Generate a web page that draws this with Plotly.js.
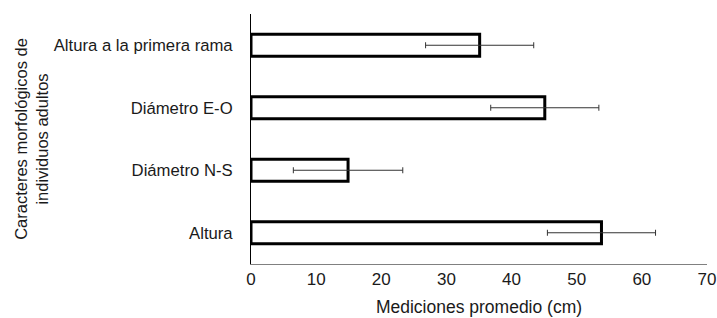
<!DOCTYPE html>
<html>
<head>
<meta charset="utf-8">
<script src="https://cdn.plot.ly/plotly-3.0.1.min.js"></script>
<style>html,body{margin:0;padding:0;background:#fff;}#chart{width:717px;height:318px;}</style>
</head>
<body>
<div id="chart"></div>
<script>
const categories = ["Altura", "Diámetro N-S", "Diámetro E-O", "Altura a la primera rama"];
const means = [53.8, 14.9, 45.1, 35.1];
const errors = [8.3, 8.4, 8.3, 8.3];
const xTicks = [0, 10, 20, 30, 40, 50, 60, 70];

const trace = {
  type: 'bar',
  orientation: 'h',
  y: categories,
  x: means,
  width: 0.35,
  marker: {color: '#ffffff', line: {color: '#000000', width: 3}},
  error_x: {type: 'data', array: errors, visible: true, color: '#333333', thickness: 1, width: 3},
  hoverinfo: 'none'
};

const layout = {
  width: 717,
  height: 318,
  margin: {l: 251, r: 10, t: 14, b: 54},
  paper_bgcolor: '#ffffff',
  plot_bgcolor: '#ffffff',
  font: {family: '"Liberation Sans", Arial, sans-serif', size: 17, color: '#1a1a1a'},
  showlegend: false,
  xaxis: {
    range: [0, 70],
    tickvals: xTicks,
    ticktext: xTicks.map(String),
    showgrid: false,
    zeroline: false,
    showline: true,
    linecolor: '#808080',
    linewidth: 1,
    ticks: '',
    ticklabelstandoff: 0,
    tickfont: {size: 17},
    title: {text: 'Mediciones promedio (cm)', standoff: 12, font: {size: 17.5}},
    fixedrange: true
  },
  yaxis: {
    categoryorder: 'array',
    categoryarray: categories,
    showgrid: false,
    zeroline: false,
    showline: true,
    linecolor: '#000000',
    linewidth: 1,
    ticks: '',
    ticklabelstandoff: 14,
    tickfont: {size: 16.7},
    title: {text: 'Caracteres morfológicos de<br>individuos adultos', standoff: 0, font: {size: 16.5}},
    fixedrange: true
  }
};

Plotly.newPlot('chart', [trace], layout, {displayModeBar: false, staticPlot: true});
</script>
</body>
</html>
